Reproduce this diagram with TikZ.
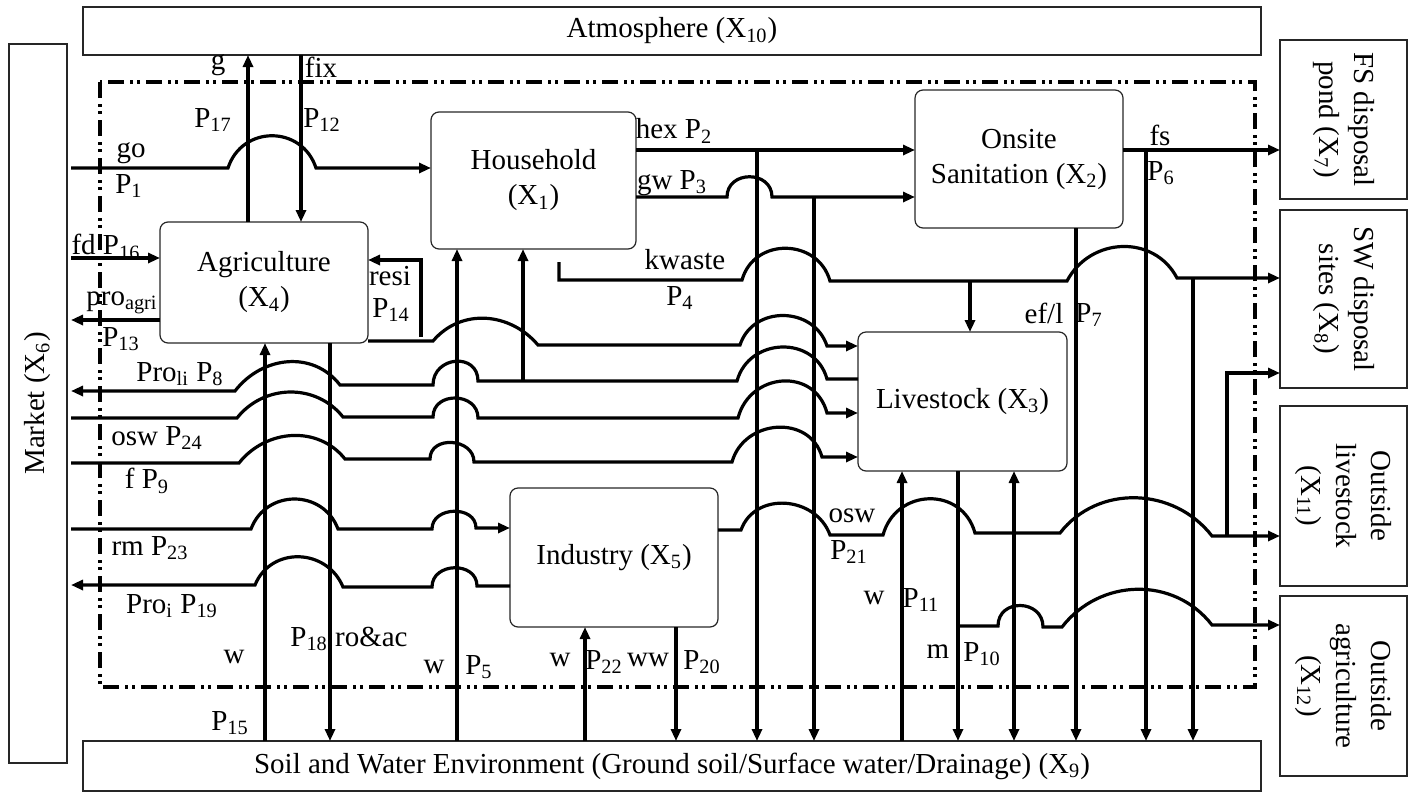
\documentclass[tikz,border=0pt]{standalone}
\usepackage{fontspec}
\setmainfont{Liberation Serif}
\usetikzlibrary{arrows.meta}
\newcommand{\sbs}[1]{\textsubscript{#1}}
\tikzset{
  comp/.style={draw=black!85,line width=0.6pt,outer sep=0pt,inner sep=2pt,align=center},
  proc/.style={comp,rounded corners=4pt},
  flux/.style={line width=1.6pt},
  lbl/.style={inner sep=0pt},
  bump/.style 2 args={to path={.. controls +(#1,-#2) and +(-#1,-#2) .. (\tikztotarget)}},
  sysline/.style={line width=1.6pt,dash pattern=on 8pt off 3pt on 1.5pt off 2pt on 1.5pt off 3pt}
}
\begin{document}
\begin{tikzpicture}[x=0.5pt,y=-0.5pt,>={Triangle[length=6pt,width=5pt]},
  every node/.style={font=\fontsize{14.5}{17.5}\selectfont}]
\useasboundingbox (0,0) rectangle (1413,793);

% outer compartments
\node[comp,minimum width=589pt,minimum height=24pt] (atm) at (672,31) {Atmosphere (X\sbs{10})};
\node[comp,rotate=90,minimum width=359.5pt,minimum height=29pt] (mkt) at (38,403.5) {Market (X\sbs{6})};
\node[comp,minimum width=589pt,minimum height=25pt] (soil) at (672,766) {Soil and Water Environment (Ground soil/Surface water/Drainage) (X\sbs{9})};
\node[comp,rotate=-90,minimum width=79.5pt,minimum height=63.5pt] (fsp) at (1343.5,119.5) {FS disposal\\pond (X\sbs{7})};
\node[comp,rotate=-90,minimum width=89pt,minimum height=63.5pt] (sws) at (1343.5,299) {SW disposal\\sites (X\sbs{8})};
\node[comp,rotate=-90,minimum width=90pt,minimum height=63.5pt] (olst) at (1343.5,496) {Outside\\livestock\\(X\sbs{11})};
\node[comp,rotate=-90,minimum width=90pt,minimum height=63.5pt] (oagr) at (1343.5,686) {Outside\\agriculture\\(X\sbs{12})};

% system boundary and processes
\draw[sysline] (100,82) rectangle (1255,687);
\node[proc,minimum width=104pt,minimum height=60.5pt] (agri) at (264,282.5) {Agriculture\\(X\sbs{4})};
\node[proc,minimum width=102.5pt,minimum height=68.5pt] (hh) at (533.5,180.5) {Household\\(X\sbs{1})};
\node[proc,minimum width=104pt,minimum height=69pt] (osan) at (1019,159) {Onsite\\Sanitation (X\sbs{2})};
\node[proc,minimum width=104.5pt,minimum height=69.5pt] (lstk) at (962.5,401.5) {Livestock (X\sbs{3})};
\node[proc,minimum width=104pt,minimum height=69.5pt] (ind) at (614,557.5) {Industry (X\sbs{5})};

% atmosphere
\draw[flux,->] (248,0 |- agri.north) -- (248,0 |- atm.south);
\draw[flux,->] (301,0 |- atm.south) -- (301,0 |- agri.north);

% market flows
\draw[flux,->] (71,168) -- (228,168) to[bump={14}{43}] (316,168) -- (0,168 -| hh.west);
\draw[flux,->] (71,258) -- (0,258 -| agri.west);
\draw[flux,->] (0,320 -| agri.west) -- (71,320);
\draw[flux,->] (421,337) -- (421,260) -- (0,260 -| agri.east);
\draw[flux,->] (0,341 -| agri.east) -- (433,341) to[bump={28}{33}] (538,345) -- (740,345) to[bump={13}{40}] (827,346) -- (0,346 -| lstk.west);
\draw[flux,<-] (71,391) -- (235,391) to[bump={27}{35}] (340,385) -- (433,385) to[bump={0}{29}] (478,381) -- (737,381) to[bump={12}{44}] (827,379) -- (0,379 -| lstk.west);
\draw[flux,->] (523,381) -- (523,0 |- hh.south);
\draw[flux,->] (71,418) -- (237,418) to[bump={27}{34}] (343,417) -- (433,417) to[bump={0}{26}] (478,418) -- (738,418) to[bump={12}{46}] (827,413) -- (0,413 -| lstk.west);
\draw[flux,->] (71,463) -- (239,463) to[bump={27}{34}] (345,459) -- (430,459) to[bump={0}{24}] (474,462) -- (732,462) to[bump={12}{43}] (822,457) -- (0,457 -| lstk.west);
\draw[flux,->] (71,529) -- (251,529) to[bump={15}{40}] (338,529) -- (432,529) to[bump={0}{23}] (476,528) -- (0,528 -| ind.west);
\draw[flux,<-] (71,585) -- (255,585) to[bump={16}{39}] (343,587) -- (432,587) to[bump={0}{25}] (477,586) -- (0,586 -| ind.west);

% soil and water
\draw[flux,->] (265,0 |- soil.north) -- (265,0 |- agri.south);
\draw[flux,->] (330,0 |- agri.south) -- (330,0 |- soil.north);
\draw[flux,->] (457,0 |- soil.north) -- (457,0 |- hh.south);
\draw[flux,->] (585,0 |- soil.north) -- (585,0 |- ind.south);
\draw[flux,->] (676,0 |- ind.south) -- (676,0 |- soil.north);

% household outputs
\draw[flux,->] (0,150 -| hh.east) -- (0,150 -| osan.west);
\draw[flux,->] (757,150) -- (757,0 |- soil.north);
\draw[flux,->] (0,197 -| hh.east) -- (727,197) to[bump={0}{27}] (772,197) -- (0,197 -| osan.west);
\draw[flux,->] (814,197) -- (814,0 |- soil.north);
\draw[flux,->] (559,262) -- (559,280) -- (742,280) to[bump={12}{43}] (830,281) -- (1067,281) to[bump={23}{44}] (1177,278) -- (sws.south |- 0,278);
\draw[flux,->] (970,281) -- (970,0 |- lstk.north);
\draw[flux,->] (1193,279) -- (1193,0 |- soil.north);

% sanitation outputs
\draw[flux,->] (0,150 -| osan.east) -- (fsp.south |- 0,150);
\draw[flux,->] (1146,150) -- (1146,0 |- soil.north);
\draw[flux,->] (1076,0 |- osan.south) -- (1076,0 |- soil.north);

% livestock
\draw[flux,->] (902,0 |- soil.north) -- (902,0 |- lstk.south);
\draw[flux,->] (958,0 |- lstk.south) -- (958,0 |- soil.north);
\draw[flux,<->] (1014,0 |- lstk.south) -- (1014,0 |- soil.north);

% to outside
\draw[flux,->] (0,530 -| ind.east) -- (741,530) to[bump={14}{39}] (830,535) -- (883,535) to[bump={13}{47}] (975,533) -- (1060,533) to[bump={38}{49}] (1212,536) -- (olst.south |- 0,536);
\draw[flux,->] (1227,536) -- (1227,373) -- (sws.south |- 0,373);
\draw[flux,->] (958,626) -- (998,626) to[bump={0}{28}] (1043,627) -- (1062,627) to[bump={38}{49}] (1212,625) -- (oagr.south |- 0,625);

% labels
\node[lbl] (lg) at (218,65) {g};
\node[lbl] (lP17) at (213,120) {P\sbs{17}};
\node[lbl] (lfix) at (321,67) {fix};
\node[lbl] (lP12) at (322,120) {P\sbs{12}};
\node[lbl] (lgo) at (131,153) {go};
\node[lbl] (lP1) at (129,186) {P\sbs{1}};
\node[lbl] (lfd) at (106,247) {fd P\sbs{16}};
\node[lbl] (lpro) at (122,303) {pro\sbs{agri}};
\node[lbl] (lP13) at (121,339) {P\sbs{13}};
\node[lbl] (lresi) at (390,276) {resi};
\node[lbl] (lP14) at (391,310) {P\sbs{14}};
\node[lbl] (lpli) at (180,374) {Pro\sbs{li} P\sbs{8}};
\node[lbl] (losw) at (157,438) {osw P\sbs{24}};
\node[lbl] (lf) at (147,481) {f P\sbs{9}};
\node[lbl] (lrm) at (150,548) {rm P\sbs{23}};
\node[lbl] (lpi) at (172,606) {Pro\sbs{i} P\sbs{19}};
\node[lbl] (lw15) at (234,657) {w};
\node[lbl] (lP15) at (230,723) {P\sbs{15}};
\node[lbl] (lro) at (349,639) {P\sbs{18} ro\&ac};
\node[lbl] (lw5) at (434,667) {w};
\node[lbl] (lP5) at (479,667) {P\sbs{5}};
\node[lbl] (lw22) at (560,660) {w};
\node[lbl] (lP22) at (604,662) {P\sbs{22}};
\node[lbl] (lww) at (648,660) {ww};
\node[lbl] (lP20) at (702,662) {P\sbs{20}};
\node[lbl] (lhex) at (674,131) {hex P\sbs{2}};
\node[lbl] (lgw) at (672,183) {gw P\sbs{3}};
\node[lbl] (lkw) at (685,260) {kwaste};
\node[lbl] (lP4) at (680,298) {P\sbs{4}};
\node[lbl] (losw2) at (852,516) {osw};
\node[lbl] (lP21) at (849,552) {P\sbs{21}};
\node[lbl] (lw11) at (874,598) {w};
\node[lbl] (lP11) at (921,600) {P\sbs{11}};
\node[lbl] (lm) at (938,652) {m};
\node[lbl] (lP10) at (982,654) {P\sbs{10}};
\node[lbl] (lef) at (1044,313) {ef/l};
\node[lbl] (lP7) at (1089,315) {P\sbs{7}};
\node[lbl] (lfs) at (1160,135) {fs};
\node[lbl] (lP6) at (1161,173) {P\sbs{6}};
\end{tikzpicture}
\end{document}
